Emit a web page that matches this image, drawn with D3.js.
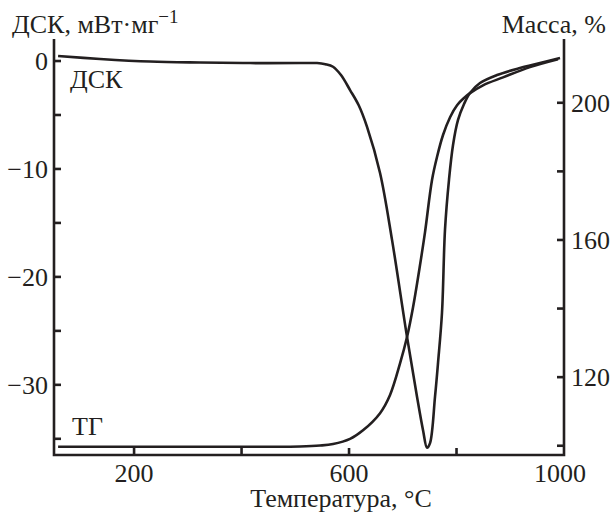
<!DOCTYPE html>
<html>
<head>
<meta charset="utf-8">
<script src="https://cdn.jsdelivr.net/npm/d3@7"></script>
<style>
  body { margin: 0; background: #fff; }
  text { font-family: "Liberation Serif", "DejaVu Serif", serif; fill: #231f20; }
</style>
</head>
<body>
<div id="chart-area"></div>
<script>
var width = 613;
var height = 514;

// DSC curve, mW/mg
var dscTemp = [58.6, 136.7, 229.8, 322.8, 415.8, 508.8, 540.5, 556, 570.2, 585, 601.9, 618, 633.5, 657.7, 680, 707.9,
    726.5, 737.7, 745.1, 750.7, 760, 765.6, 773, 778.6, 786, 793.5, 802.8, 814, 825.1, 843.7, 875.3, 918.1, 955.3, 992.6];
var dscValue = [0.46, 0.19, -0.05, -0.14, -0.19, -0.19, -0.19, -0.3, -0.53, -1.3, -2.69, -4.1, -6.1, -10.37, -16.57, -25.56,
    -31.1, -34.2, -35.83, -35.4, -31.1, -27.96, -23.3, -15.6, -11.0, -7.78, -5.46, -3.98, -2.96, -2.04, -1.3, -0.65, -0.19, 0.28];

// TG curve, mass %
var tgTemp = [58.6, 229.8, 415.8, 508.8, 546, 570.2, 601.9, 626, 657.7, 676.3, 694.9, 707.9, 719.1, 732.1, 741.4,
    754.4, 763.7, 774.9, 788, 801, 814, 825.1, 849.3, 886.5, 936.7, 988.8];
var tgValue = [99.7, 99.7, 99.7, 99.8, 100.06, 100.5, 102.0, 104.5, 109.5, 114.8, 124.0, 131.7, 140.4, 152.7, 162.3,
    177.5, 184.2, 190.6, 195.8, 199.3, 201.4, 202.8, 205.1, 207.4, 210.4, 212.7];

var xTicks = [200, 400, 600, 800];
var xLabels = [200, 600, 1000];
var leftTicks = [0, -5, -10, -15, -20, -25, -30, -35];
var leftLabels = [0, -10, -20, -30];
var rightTicks = [100, 120, 140, 160, 180, 200];
var rightLabels = [120, 160, 200];

var plotLeft = 54, plotRight = 564, plotTop = 39, plotBottom = 455;
var tickLen = 7;
var ink = "#231f20";

var x = d3.scaleLinear().domain([51, 1000]).range([plotLeft, plotRight]);
var yL = d3.scaleLinear().domain([-36.5, 2.04]).range([plotBottom, plotTop]);
var yR = d3.scaleLinear().domain([97.3, 218.6]).range([plotBottom, plotTop]);

var svg = d3.select("#chart-area").append("svg")
    .attr("width", width)
    .attr("height", height);

function fmt(v) {
    return v < 0 ? "\u2212" + Math.abs(v) : String(v);
}

// curves
var dscLine = d3.line()
    .x(function(d, i) { return x(dscTemp[i]); })
    .y(function(d) { return yL(d); })
    .curve(d3.curveCatmullRom.alpha(0.5));

var tgLine = d3.line()
    .x(function(d, i) { return x(tgTemp[i]); })
    .y(function(d) { return yR(d); })
    .curve(d3.curveCatmullRom.alpha(0.5));

svg.append("path")
    .attr("d", dscLine(dscValue))
    .attr("fill", "none")
    .attr("stroke", ink)
    .attr("stroke-width", 2.6);

svg.append("path")
    .attr("d", tgLine(tgValue))
    .attr("fill", "none")
    .attr("stroke", ink)
    .attr("stroke-width", 2.6);

// axes
var axisG = svg.append("g")
    .attr("stroke", ink)
    .attr("stroke-width", 2.6)
    .attr("fill", "none");

axisG.append("path")
    .attr("d", "M" + plotLeft + "," + plotTop + "V" + plotBottom + "H" + plotRight + "V" + plotTop);

axisG.selectAll(".xt")
    .data(xTicks)
    .enter()
    .append("line")
    .attr("x1", function(d) { return x(d); })
    .attr("x2", function(d) { return x(d); })
    .attr("y1", plotBottom)
    .attr("y2", plotBottom - tickLen);

axisG.selectAll(".lt")
    .data(leftTicks)
    .enter()
    .append("line")
    .attr("x1", plotLeft)
    .attr("x2", plotLeft + tickLen)
    .attr("y1", function(d) { return yL(d); })
    .attr("y2", function(d) { return yL(d); });

axisG.selectAll(".rt")
    .data(rightTicks)
    .enter()
    .append("line")
    .attr("x1", plotRight)
    .attr("x2", plotRight - tickLen)
    .attr("y1", function(d) { return yR(d); })
    .attr("y2", function(d) { return yR(d); });

var fs = 26;

svg.selectAll(".xl")
    .data(xLabels)
    .enter()
    .append("text")
    .attr("x", function(d) { return x(d) - (d === 1000 ? 4 : 0); })
    .attr("y", 482)
    .attr("text-anchor", "middle")
    .attr("font-size", fs)
    .text(function(d) { return d; });

svg.selectAll(".ll")
    .data(leftLabels)
    .enter()
    .append("text")
    .attr("x", plotLeft - 6)
    .attr("y", function(d) { return yL(d); })
    .attr("dy", "0.34em")
    .attr("text-anchor", "end")
    .attr("font-size", fs)
    .text(function(d) { return fmt(d); });

svg.selectAll(".rl")
    .data(rightLabels)
    .enter()
    .append("text")
    .attr("x", plotRight + 7)
    .attr("y", function(d) { return yR(d); })
    .attr("dy", "0.34em")
    .attr("font-size", fs)
    .text(function(d) { return d; });

// titles
var yTitle = svg.append("text")
    .attr("x", 12)
    .attr("y", 33)
    .attr("font-size", fs);
yTitle.append("tspan").text("ДСК, мВт·мг");
yTitle.append("tspan")
    .attr("dy", -10)
    .attr("font-size", 19)
    .text("\u22121");

svg.append("text")
    .attr("x", 606)
    .attr("y", 33)
    .attr("text-anchor", "end")
    .attr("font-size", fs)
    .text("Масса, %");

svg.append("text")
    .attr("x", 341)
    .attr("y", 507)
    .attr("text-anchor", "middle")
    .attr("font-size", fs)
    .text("Температура, °C");

svg.append("text")
    .attr("x", 70)
    .attr("y", 88)
    .attr("font-size", fs)
    .text("ДСК");

svg.append("text")
    .attr("x", 72)
    .attr("y", 435)
    .attr("font-size", fs)
    .text("ТГ");
</script>
</body>
</html>
